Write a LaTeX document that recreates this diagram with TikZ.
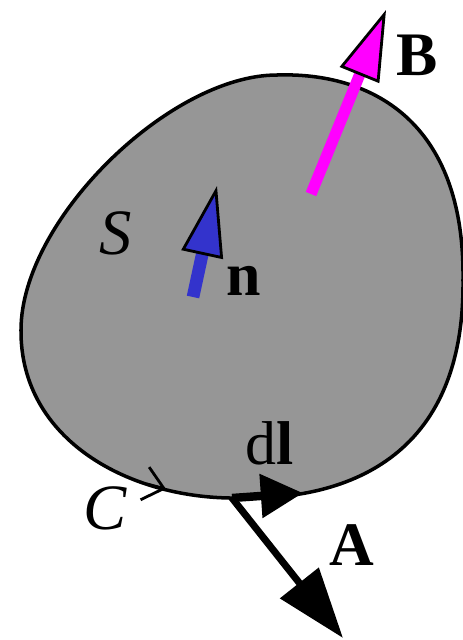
\documentclass[tikz,border=0pt]{standalone}
\usepackage{fontspec}
\setmainfont{Liberation Serif}
\usetikzlibrary{arrows.meta}
\definecolor{surfGray}{HTML}{969696}
\definecolor{normBlue}{HTML}{3333CC}
\definecolor{fieldMag}{HTML}{FF00FF}

\begin{document}
\begin{tikzpicture}[
  x=0.025cm, y=-0.025cm,
  surface/.style={fill=surfGray, draw=black, line width=2.5pt},
  vlabel/.style={inner sep=0pt, font=\fontsize{44}{50}\selectfont\bfseries},
  slabel/.style={inner sep=0pt, font=\fontsize{46}{52}\selectfont\itshape},
  fieldvec/.style={line width=8pt, draw=fieldMag, -{Triangle[length=50pt, width=30pt, color=black, fill=fieldMag, line width=2pt]}},
  normvec/.style={line width=9pt, draw=normBlue, -{Triangle[length=50pt, width=30pt, color=black, fill=normBlue, line width=2pt]}},
  linevec/.style={line width=6pt, -{Triangle[length=30pt, width=30pt]}},
  potvec/.style={line width=5pt, -{Triangle[length=50pt, width=34pt]}},
  orient/.style={line width=2pt, -{Straight Barb[length=14pt, width=24pt]}}
]
\useasboundingbox (0,0) rectangle (462,640);

\draw[surface] (277,75) .. controls (370,72) and (465,120) .. (463,280)
  .. controls (465,470) and (330,500) .. (240,498)
  .. controls (130,500) and (20,440) .. (21,330)
  .. controls (21,220) and (170,75) .. cycle;

\coordinate (bTail) at (311,194);
\coordinate (bTip) at (386,10);
\coordinate (nTail) at (193,297);
\coordinate (nTip) at (217,186);
\coordinate (pt) at (232,498);
\coordinate (dlTip) at (303,493);
\coordinate (aTip) at (343,638);
\coordinate (cBack) at (147,484);
\coordinate (cTip) at (166,489);

\draw[fieldvec] (bTail) -- (bTip);
\draw[normvec] (nTail) -- (nTip);
\draw[linevec] (pt) -- (dlTip);
\draw[potvec] (pt) -- (aTip);
\draw[orient] (cBack) -- (cTip);

\node[vlabel] (bLbl) at (417,55) {B};
\node[vlabel] (nLbl) at (244,281) {n};
\node[vlabel] (aLbl) at (352,545) {A};
\node[slabel] (sLbl) at (116,233) {S};
\node[slabel] (cLbl) at (105,508) {C};
\node[inner sep=0pt, font=\fontsize{44}{50}\selectfont] (dlLbl) at (270,443) {d\textbf{l}};
\end{tikzpicture}
\end{document}
